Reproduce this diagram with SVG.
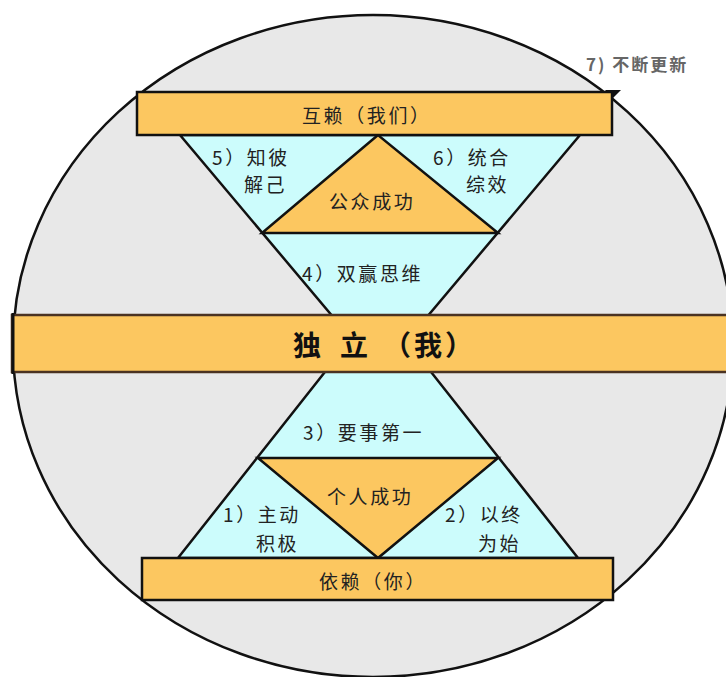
<svg xmlns="http://www.w3.org/2000/svg" width="726" height="677" viewBox="0 0 726 677">
<defs>
<style>
.bar{fill:#fcc760;stroke:#111;stroke-width:2.5}
.cy{fill:#ccfcfc;stroke:#111;stroke-width:2.5;stroke-linejoin:miter}
.or{fill:#fcc760;stroke:#111;stroke-width:2.5}
.t{font-family:"Noto Sans CJK SC","Noto Sans",sans-serif;font-size:19px;fill:#222;letter-spacing:2.6px}
.b{font-family:"Noto Sans CJK SC","Noto Sans",sans-serif;font-size:28px;font-weight:bold;fill:#111}
.g{font-family:"Noto Sans CJK SC","Noto Sans",sans-serif;font-size:17px;font-weight:bold;fill:#666;letter-spacing:2px}
</style>
</defs>
<rect width="726" height="677" fill="#fff"/>
<g id="circle">
<ellipse cx="373" cy="346" rx="360" ry="331" fill="#e8e8e8" stroke="#111" stroke-width="2.5"/>
<polygon points="605,90 621,90 613,98" fill="#111"/>
</g>
<g id="connectors">
<polygon class="cy" points="180,135 580,135 384,368 376,368"/>
<polygon class="cy" points="178,558 578,558 390,320 366,320"/>
</g>
<g id="public-success">
<polygon class="or" points="378,135 262,233 498,233"/>
<text class="t" x="329" y="209">公众成功</text>
</g>
<g id="private-success">
<polygon class="or" points="258,458 498,458 378,558"/>
<text class="t" x="327" y="504">个人成功</text>
</g>
<g id="interdependence">
<rect class="bar" x="137" y="92" width="475" height="43"/>
<text class="t" x="302" y="123">互赖（我们）</text>
</g>
<g id="independence">
<rect x="12" y="315" width="730" height="57" fill="#fcc760" stroke="#4a3222" stroke-width="2.5"/>
<line x1="13" y1="313" x2="13" y2="374" stroke="#111" stroke-width="3"/>
<text class="b" y="356"><tspan x="293">独</tspan> <tspan x="340">立</tspan> <tspan x="383" letter-spacing="3">（我）</tspan></text>
</g>
<g id="dependence">
<rect class="bar" x="142" y="558" width="471" height="42"/>
<text class="t" x="319" y="589">依赖（你）</text>
</g>
<g id="habit5">
<text class="t" x="212" y="165">5）知彼</text>
<text class="t" x="244" y="192">解己</text>
</g>
<g id="habit6">
<text class="t" x="433" y="165">6）统合</text>
<text class="t" x="466" y="192">综效</text>
</g>
<g id="habit4">
<text class="t" x="302" y="281">4）双赢思维</text>
</g>
<g id="habit3">
<text class="t" x="303" y="440">3）要事第一</text>
</g>
<g id="habit1">
<text class="t" x="223" y="522">1）主动</text>
<text class="t" x="256" y="551">积极</text>
</g>
<g id="habit2">
<text class="t" x="445" y="522">2）以终</text>
<text class="t" x="478" y="551">为始</text>
</g>
<g id="habit7">
<text class="g" x="586" y="71">7) 不断更新</text>
</g>
</svg>
